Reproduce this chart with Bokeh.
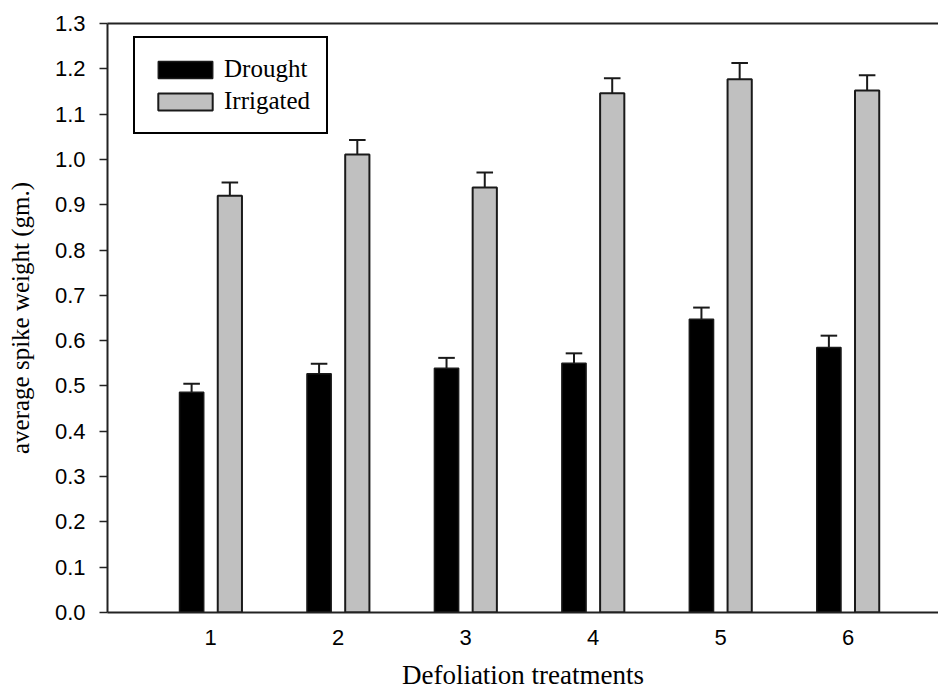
from bokeh.plotting import figure
from bokeh.models import (ColumnDataSource, Range1d, FixedTicker, PrintfTickFormatter,
                          LinearAxis, Legend, LegendItem)
from bokeh.transform import dodge
from bokeh.embed import file_html
from bokeh.resources import INLINE

# ---- data ----
treatments = [1, 2, 3, 4, 5, 6]
drought = [0.486, 0.527, 0.539, 0.550, 0.647, 0.585]
drought_err = [0.019, 0.022, 0.023, 0.022, 0.026, 0.026]
irrigated = [0.920, 1.011, 0.938, 1.146, 1.177, 1.152]
irrigated_err = [0.029, 0.032, 0.033, 0.033, 0.036, 0.034]
y_ticks = [round(0.1 * i, 1) for i in range(14)]

x_label = "Defoliation treatments"
y_label = "average spike weight (gm.)"

src = ColumnDataSource(dict(
    x=treatments,
    d=drought,
    d_top=[v + e for v, e in zip(drought, drought_err)],
    i=irrigated,
    i_top=[v + e for v, e in zip(irrigated, irrigated_err)],
))

OFF = 0.15
BW = 0.19
CAP = 0.065

p = figure(width=938, height=698, output_backend="svg", toolbar_location=None,
           x_range=Range1d(0.19, 6.71), y_range=Range1d(0, 1.3),
           min_border_left=107, min_border_right=0, min_border_top=23, min_border_bottom=86)
p.outline_line_color = None
p.grid.grid_line_color = None
p.background_fill_color = "white"
p.border_fill_color = "white"

# error bars (upward only)
for off, top, base in [(-OFF, "d_top", "d"), (OFF, "i_top", "i")]:
    p.segment(x0=dodge("x", off), y0=base, x1=dodge("x", off), y1=top, source=src,
              line_color="#1a1a1a", line_width=2)
    p.segment(x0=dodge("x", off - CAP), y0=top, x1=dodge("x", off + CAP), y1=top, source=src,
              line_color="#1a1a1a", line_width=2)

r_d = p.vbar(x=dodge("x", -OFF), top="d", width=BW, bottom=0, source=src,
             fill_color="black", line_color="#1a1a1a", line_width=1.5)
r_i = p.vbar(x=dodge("x", OFF), top="i", width=BW, bottom=0, source=src,
             fill_color="#c0c0c0", line_color="#1a1a1a", line_width=2)

# axes
xa = p.xaxis[0]
xa.ticker = FixedTicker(ticks=treatments)
xa.major_tick_line_color = None
xa.minor_tick_line_color = None
xa.major_tick_out = 0
xa.major_tick_in = 0
xa.major_label_standoff = 17
xa.axis_label = x_label
xa.axis_label_text_font = "Liberation Serif"
xa.axis_label_text_font_style = "normal"
xa.axis_label_text_font_size = "27px"
xa.axis_label_text_color = "black"
xa.axis_label_standoff = 12
xa.major_label_text_font = "Liberation Sans"
xa.major_label_text_font_size = "22px"
xa.major_label_text_color = "black"
xa.axis_line_width = 2
xa.axis_line_color = "#222222"

ya = p.yaxis[0]
ya.ticker = FixedTicker(ticks=y_ticks)
ya.formatter = PrintfTickFormatter(format="%.1f")
ya.minor_tick_line_color = None
ya.major_tick_out = 8
ya.major_tick_in = 0
ya.major_tick_line_color = "#222222"
ya.major_tick_line_width = 1.5
ya.major_label_standoff = 14
ya.axis_label = y_label
ya.axis_label_text_font = "Liberation Serif"
ya.axis_label_text_font_style = "normal"
ya.axis_label_text_font_size = "25px"
ya.axis_label_text_color = "black"
ya.axis_label_standoff = 18
ya.major_label_text_font = "Liberation Sans"
ya.major_label_text_font_size = "22px"
ya.major_label_text_color = "black"
ya.axis_line_width = 2
ya.axis_line_color = "#222222"

top_axis = LinearAxis(ticker=FixedTicker(ticks=[]), major_tick_line_color=None,
                      minor_tick_line_color=None, major_tick_out=0, major_tick_in=0,
                      axis_line_width=2, axis_line_color="#222222", major_label_standoff=0)
p.add_layout(top_axis, "above")

legend = Legend(items=[LegendItem(label="Drought", renderers=[r_d]),
                       LegendItem(label="Irrigated", renderers=[r_i])],
                location=(26, 478), orientation="vertical",
                glyph_width=68, glyph_height=21, label_height=30,
                label_text_font="Liberation Serif", label_text_font_size="25px",
                label_text_color="black",
                label_standoff=5, spacing=2, padding=16, margin=0,
                border_line_color="black", border_line_width=2, border_line_alpha=1.0,
                background_fill_alpha=1.0)
p.add_layout(legend, "center")

open("out.html", "w").write(file_html(p, INLINE))
